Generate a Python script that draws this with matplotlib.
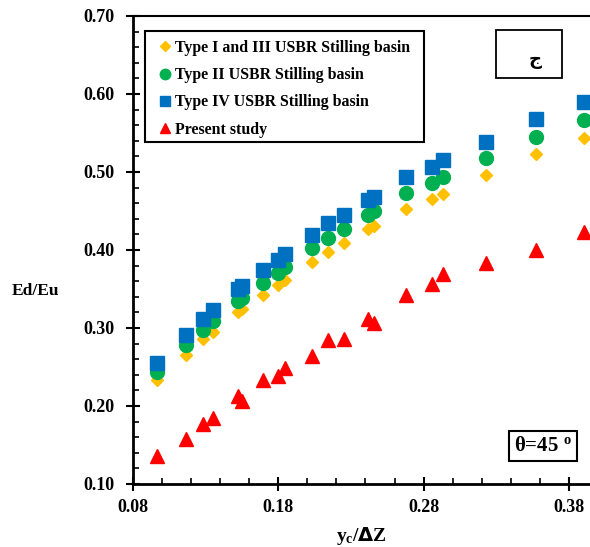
import matplotlib
matplotlib.use('Agg')
import matplotlib.pyplot as plt
from matplotlib.patches import Rectangle
from matplotlib.ticker import MultipleLocator, FormatStrFormatter

plt.rcParams.update({
    'font.family': ['Liberation Serif', 'DejaVu Serif'],
    'font.weight': 'bold',
    'mathtext.fontset': 'custom',
    'mathtext.rm': 'Liberation Serif:bold',
    'mathtext.it': 'Liberation Serif:bold',
})

# ---- data ----
yc_dz = [0.0963, 0.1165, 0.1280, 0.1348, 0.1522, 0.1548, 0.1692, 0.1798, 0.1846, 0.2034,
         0.2142, 0.2252, 0.2415, 0.2460, 0.2681, 0.2857, 0.2931, 0.3227, 0.3573, 0.3903]
type_1_3 = [0.233, 0.265, 0.286, 0.295, 0.321, 0.324, 0.342, 0.355, 0.362, 0.384,
            0.398, 0.409, 0.427, 0.431, 0.453, 0.466, 0.472, 0.496, 0.523, 0.543]
type_2 = [0.244, 0.278, 0.298, 0.309, 0.335, 0.339, 0.358, 0.371, 0.378, 0.402,
          0.416, 0.427, 0.445, 0.450, 0.473, 0.486, 0.494, 0.518, 0.545, 0.567]
type_4 = [0.255, 0.291, 0.312, 0.323, 0.350, 0.354, 0.374, 0.387, 0.395, 0.419,
          0.434, 0.445, 0.464, 0.468, 0.493, 0.507, 0.515, 0.539, 0.568, 0.590]
present = [0.136, 0.158, 0.177, 0.185, 0.213, 0.206, 0.233, 0.238, 0.249, 0.264,
           0.285, 0.286, 0.312, 0.306, 0.342, 0.356, 0.369, 0.383, 0.400, 0.423]
x_ticks = [0.08, 0.18, 0.28, 0.38]

W, H = 590, 547
fig = plt.figure(figsize=(W / 100, H / 100), dpi=100)
ax = fig.add_axes([133 / W, 1 - 484 / H, 1 - 133 / W, (484 - 16) / H])

ax.plot(yc_dz, type_1_3, 'D', color='#FFC000', ms=6.5, mec='#FFC000',
        label='Type I and III USBR Stilling basin')
ax.plot(yc_dz, type_2, 'o', color='#00B050', ms=10, mec='#00B050',
        label='Type II USBR Stilling basin')
ax.plot(yc_dz, type_4, 's', color='#0070C0', ms=10, mec='#0070C0',
        label='Type IV USBR Stilling basin')
ax.plot(yc_dz, present, '^', color='#FF0000', ms=10, mec='#FF0000',
        label='Present study')

ax.set_xlim(0.08, 0.3945)
ax.set_ylim(0.10, 0.70)
ax.set_xticks(x_ticks)
ax.xaxis.set_minor_locator(MultipleLocator(0.02))
ax.yaxis.set_major_locator(MultipleLocator(0.10))
ax.yaxis.set_minor_locator(MultipleLocator(0.02))
ax.xaxis.set_major_formatter(FormatStrFormatter('%.2f'))
ax.yaxis.set_major_formatter(FormatStrFormatter('%.2f'))
ax.tick_params(which='major', direction='inout', length=10, width=1.5, labelsize=13)
ax.tick_params(which='minor', direction='in', length=4, width=1.2)
ax.tick_params(axis='x', which='major', pad=6)
ax.tick_params(axis='y', which='major', pad=8)
for lab in ax.get_xticklabels() + ax.get_yticklabels():
    lab.set_fontweight('bold')

ax.spines['right'].set_visible(False)
ax.spines['left'].set_linewidth(2)
ax.spines['bottom'].set_linewidth(2)
ax.spines['top'].set_linewidth(1.5)

fig.text(12 / W, 1 - 291 / H, 'Ed/Eu', fontsize=12.5, fontweight='bold', va='center', ha='left')
fig.text(361 / W, 1 - 536 / H, r'y$_{\mathregular{c}}$/$\mathbf{\Delta}$Z', fontsize=14,
         fontweight='bold', ha='center', va='center')

# legend (frame drawn separately to match the boxed layout)
leg = ax.legend(loc='upper left', bbox_to_anchor=((142 - 133) / 457, (484 - 27) / 468),
                fontsize=11.4, frameon=False, handletextpad=0.0, handlelength=1.3,
                labelspacing=0.72, borderpad=0.3, markerscale=0.75)
for t in leg.get_texts():
    t.set_fontweight('bold')
ax.add_patch(Rectangle(((145 - 133) / 457, (484 - 142) / 468), (424 - 145) / 457, (142 - 31) / 468,
                       transform=ax.transAxes, fill=False, ec='black', lw=1.5, zorder=5))

# panel letter box
ax.add_patch(Rectangle(((496 - 133) / 457, (484 - 78) / 468), 66 / 457, 48 / 468,
                       transform=ax.transAxes, fc='white', ec='black', lw=1.3, zorder=5))
ax.text((535 - 133) / 457, (484 - 60) / 468, 'ج', transform=ax.transAxes, fontsize=13,
        fontweight='bold', family=['DejaVu Sans'], ha='center', va='center', zorder=6)

ax.text((543 - 133) / 457, (484 - 446) / 468, r'θ=45 $^{\mathregular{o}}$', transform=ax.transAxes,
        fontsize=15, fontweight='bold', ha='center', va='center',
        bbox=dict(boxstyle='square,pad=0.25', fc='white', ec='black', lw=1.5))

fig.savefig('out.png', dpi=100)
